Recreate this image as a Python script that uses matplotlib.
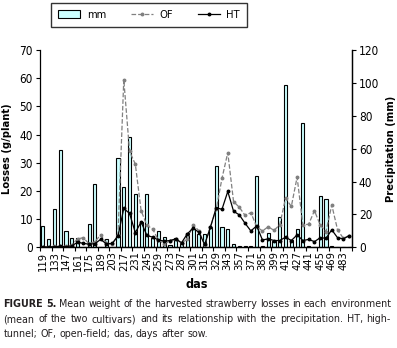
import matplotlib
matplotlib.use("Agg")
import matplotlib.pyplot as plt
from matplotlib import font_manager as fm
import numpy as np

# weekly sampling dates (days after sow)
das = [119, 126, 133, 140, 147, 154, 161, 168, 175, 182,
       189, 196, 203, 210, 217, 224, 231, 238, 245, 252,
       259, 266, 273, 280, 287, 294, 301, 308, 315, 322,
       329, 336, 343, 350, 357, 364, 371, 378, 385, 392,
       399, 406, 413, 420, 427, 434, 441, 448, 455, 462,
       469, 476, 483, 490]

# precipitation (mm), right axis
mm = [12.8, 5.0, 23.0, 59.3, 10.0, 5.7, 5.8, 0, 14.2, 38.5,
      0, 5.1, 0, 54.2, 36.5, 67.0, 32.5, 15.6, 32.3, 5.4,
      9.8, 6.1, 1.3, 5.4, 2.5, 8.6, 10.9, 8.0, 8.1, 12.6,
      49.5, 12.3, 11.2, 2.0, 0.8, 0.9, 0.8, 43.5, 0.5, 8.6,
      3.7, 18.4, 98.9, 4.3, 11.1, 75.5, 0.6, 0.3, 31.3, 29.2,
      0.8, 0, 0, 0]

# losses (g/plant), left axis
OF = [0.2, 0.2, 0.3, 0.4, 0.3, 0.8, 3.0, 3.4, 1.2, 2.0,
      4.4, 1.5, 1.0, 4.5, 59.5, 34.0, 29.5, 13.0, 7.8, 6.5,
      2.5, 1.3, 2.2, 2.8, 1.6, 2.8, 7.9, 5.9, 0.8, 7.2,
      13.5, 24.5, 33.6, 16.2, 14.2, 11.3, 12.3, 7.3, 5.8, 7.3,
      6.0, 8.0, 17.4, 14.5, 24.9, 7.9, 8.2, 13.0, 7.9, 5.6,
      15.0, 6.2, 3.2, 4.1]
HT = [0.1, 0.1, 0.2, 0.3, 0.2, 0.5, 1.8, 1.4, 1.1, 1.3,
      2.8, 1.2, 1.4, 4.0, 13.8, 12.0, 5.2, 9.0, 4.2, 3.6,
      2.6, 2.2, 2.4, 3.0, 1.6, 4.8, 6.8, 5.3, 1.0, 7.2,
      14.0, 13.5, 19.8, 12.8, 11.5, 8.5, 5.8, 7.6, 2.6, 3.0,
      2.4, 2.4, 3.6, 2.4, 4.4, 2.4, 2.8, 2.0, 3.4, 3.2,
      6.2, 3.4, 3.0, 4.1]

caption = [
    "FIGURE 5. Mean weight of the harvested strawberry losses in each environment",
    "(mean of the two cultivars) and its relationship with the precipitation. HT, high-",
    "tunnel; OF, open-field; das, days after sow.",
]

# a narrow sans like the journal's font, if one is installed
names = {f.name for f in fm.fontManager.ttflist}
has_cond = any(f.name == 'DejaVu Sans' and 'Condensed' in f.fname for f in fm.fontManager.ttflist)
if 'Liberation Sans Narrow' in names:
    plt.rcParams['font.family'] = ['Liberation Sans Narrow', 'DejaVu Sans']
elif has_cond:
    plt.rcParams['font.family'] = ['DejaVu Sans']
    plt.rcParams['font.stretch'] = 'condensed'
else:
    plt.rcParams['font.family'] = ['Liberation Sans', 'DejaVu Sans']
plt.rcParams['font.size'] = 8

W, H = 397, 348
fig = plt.figure(figsize=(W / 100, H / 100), dpi=100)
ax1 = fig.add_axes([40 / W, 1 - 247.3 / H, 312 / W, 197.3 / H])
ax2 = ax1.twinx()
ax1.set_zorder(2)
ax1.patch.set_visible(False)

x = np.arange(len(das))
bars = ax2.bar(x, mm, width=0.55, color='#ccffff', edgecolor='black', linewidth=0.8, label='mm')
l1, = ax1.plot(x, OF, color='#808080', ls='--', lw=0.9, marker='o', ms=1.8, label='OF')
l2, = ax1.plot(x, HT, color='black', ls='-', lw=0.9, marker='o', ms=1.8, label='HT')

ax1.set_xlim(-0.5, len(das) - 0.5)
ax1.set_ylim(0, 70)
ax2.set_ylim(0, 120)
ax1.set_yticks(range(0, 71, 10))
ax2.set_yticks(range(0, 121, 20))

# tick marks between every two categories, labels every second date
ax1.set_xticks(np.arange(-0.5, len(das), 2))
ax1.set_xticklabels([])
ax1.set_xticks(x[::2], minor=True)
ax1.set_xticklabels([str(d) for d in das[::2]], minor=True, rotation=90)
ax1.tick_params(axis='x', which='major', length=3, width=0.8)
ax1.tick_params(axis='x', which='minor', length=0, pad=3)
ax1.tick_params(axis='y', length=3, width=0.8, pad=2, labelsize=8.5)
ax2.tick_params(axis='y', length=3, width=0.8, pad=2, labelsize=8.5)

for a in (ax1, ax2):
    a.spines['top'].set_visible(False)
    for s in ('left', 'right', 'bottom'):
        a.spines[s].set_linewidth(0.9)
ax2.spines['left'].set_visible(False)

ax1.set_ylabel('Losses (g/plant)', fontweight='bold', labelpad=5)
ax2.set_ylabel('Precipitation (mm)', fontweight='bold', labelpad=5)
fig.text(197 / W, 1 - 284 / H, 'das', ha='center', va='center', fontweight='bold', fontsize=9)

fig.legend(handles=[bars, l1, l2], labels=['mm', 'OF', 'HT'], ncol=3,
           loc='center', bbox_to_anchor=(149 / W, 1 - 15 / H), frameon=True,
           fancybox=False, edgecolor='black', fontsize=8, handlelength=2.0,
           columnspacing=2.2, borderpad=0.6, handletextpad=0.6)

# justified caption
renderer = fig.canvas.get_renderer()
x0, x1 = 3.5, 391.0
fs = 9.2
probe = [fig.text(0, 0, line, fontsize=fs) for line in caption[:2]]
longest = max(t.get_window_extent(renderer).width for t in probe)
for t in probe:
    t.remove()
if longest > (x1 - x0) * 0.985:
    fs = fs * (x1 - x0) * 0.985 / longest

sp = fig.text(0, 0, 'a b', fontsize=fs)
sa = fig.text(0, 0, 'ab', fontsize=fs)
space = sp.get_window_extent(renderer).width - sa.get_window_extent(renderer).width
sp.remove()
sa.remove()

ys = [304, 319, 334]
for k, (line, y) in enumerate(zip(caption, ys)):
    words = line.split(' ')
    texts = []
    for j, w in enumerate(words):
        bold = (k == 0 and j < 2)
        texts.append(fig.text(0, 1 - y / H, w, fontsize=fs, va='center',
                              color='#231f20', fontweight='bold' if bold else 'normal'))
    widths = [t.get_window_extent(renderer).width for t in texts]
    if k < 2:
        gap = (x1 - x0 - sum(widths)) / (len(words) - 1)
    else:
        gap = space
    pos = x0
    for t, w in zip(texts, widths):
        t.set_x(pos / W)
        pos += w + gap

fig.savefig('out.png', dpi=100)
